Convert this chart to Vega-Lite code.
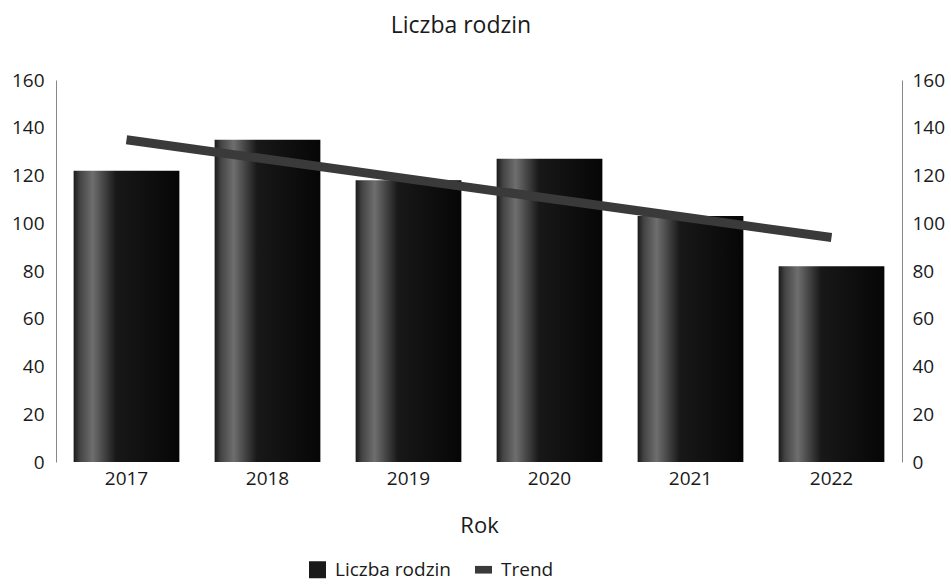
{
  "$schema": "https://vega.github.io/schema/vega-lite/v6.json",
  "width": 846,
  "height": 382,
  "autosize": "none",
  "padding": {"left": 56, "top": 80, "right": 49, "bottom": 122},
  "background": "white",
  "title": {"text": "Liczba rodzin", "fontSize": 23, "fontWeight": "normal", "font": "Open Sans", "color": "#1a1a1a", "offset": 33, "dx": -18},
  "config": {
    "view": {"stroke": null},
    "axis": {"labelFont": "Open Sans", "titleFont": "Open Sans", "labelColor": "#1a1a1a", "titleColor": "#1a1a1a", "labelFontSize": 19, "titleFontSize": 22, "titleFontWeight": "normal", "grid": false, "ticks": false},
    "legend": {"labelFont": "Open Sans", "labelFontSize": 19, "labelColor": "#1a1a1a"}
  },
  "data": {"values": [
    {"rok": "2017", "liczba": 122, "trend": 135},
    {"rok": "2018", "liczba": 135, "trend": 126.8},
    {"rok": "2019", "liczba": 118, "trend": 118.6},
    {"rok": "2020", "liczba": 127, "trend": 110.4},
    {"rok": "2021", "liczba": 103, "trend": 102.2},
    {"rok": "2022", "liczba": 82, "trend": 94}
  ]},
  "encoding": {
    "x": {"field": "rok", "type": "nominal", "scale": {"paddingInner": 0.25, "paddingOuter": 0.125},
      "axis": {"title": "Rok", "labelAngle": 0, "domain": false, "labelPadding": 7, "titlePadding": 27}}
  },
  "layer": [
    {
      "mark": {"type": "bar", "fill": {"gradient": "linear", "x1": 0, "y1": 0, "x2": 1, "y2": 0, "stops": [
              {"offset": 0, "color": "#1a1a1a"}, {"offset": 0.06, "color": "#444444"}, {"offset": 0.18, "color": "#6e6e6e"}, {"offset": 0.4, "color": "#181818"}, {"offset": 1, "color": "#060606"}]}},
      "encoding": {
        "y": {"field": "liczba", "type": "quantitative", "scale": {"domain": [0, 160]},
          "axis": {"orient": "left", "title": null, "values": [0,20,40,60,80,100,120,140,160], "domainColor": "#888", "labelPadding": 12}}
      }
    },
    {
      "mark": {"type": "line", "strokeWidth": 9, "strokeCap": "butt"},
      "encoding": {
        "y": {"field": "trend", "type": "quantitative", "scale": {"domain": [0, 160]},
          "axis": {"orient": "right", "title": null, "values": [0,20,40,60,80,100,120,140,160], "domainColor": "#888", "labelPadding": 10}},
        "color": {"datum": "Trend", "type": "nominal",
          "scale": {"domain": ["Liczba rodzin", "Trend"], "range": ["#1a1a1a", "#3a3a3a"]},
          "legend": {"title": null, "orient": "none", "legendX": 252, "legendY": 480, "direction": "horizontal", "symbolType": "square", "symbolSize": 289, "columnPadding": 22, "labelOffset": 8, "padding": 0,
            "encode": {"symbols": {"update": {
              "fill": {"scale": "color", "field": "value"},
              "strokeWidth": {"value": 0},
              "shape": {"signal": "datum.value === 'Trend' ? 'M-1,-0.45H1V0.45H-1Z' : 'square'"}}}}}}
      }
    }
  ],
  "resolve": {"axis": {"y": "independent"}}
}
